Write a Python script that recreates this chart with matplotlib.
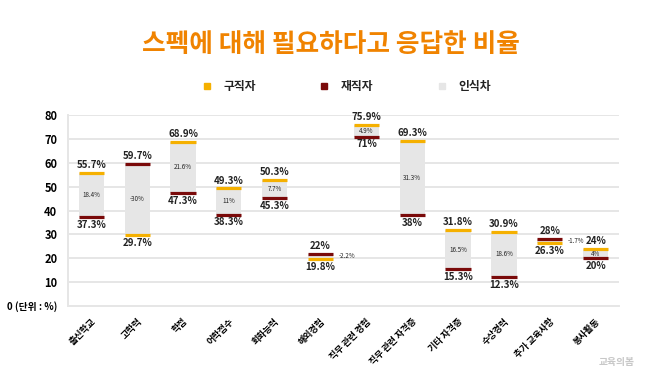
import matplotlib.pyplot as plt
import numpy as np

plt.rcParams['font.family'] = ['Noto Sans CJK KR', 'DejaVu Sans']

# data
categories = ['출신학교', '고학력', '학점', '어학점수', '회화능력', '해외경험',
              '직무 관련 경험', '직무 관련 자격증', '기타 자격증', '수상경력',
              '추가 교육사항', '봉사활동']
# bar positions as drawn in the source (회화능력 orange bar sits near 53)
seekers = [55.7, 29.7, 68.9, 49.3, 53.0, 19.8, 75.9, 69.3, 31.8, 30.9, 26.3, 24]
workers = [37.3, 59.7, 47.3, 38.3, 45.3, 22, 71, 38, 15.3, 12.3, 28, 20]
# printed labels
seeker_labels = ['55.7%', '29.7%', '68.9%', '49.3%', '50.3%', '19.8%', '75.9%',
                 '69.3%', '31.8%', '30.9%', '26.3%', '24%']
worker_labels = ['37.3%', '59.7%', '47.3%', '38.3%', '45.3%', '22%', '71%',
                 '38%', '15.3%', '12.3%', '28%', '20%']
gap_labels = ['18.4%', '-30%', '21.6%', '11%', '7.7%', '-2.2%', '4.9%',
              '31.3%', '16.5%', '18.6%', '-1.7%', '4%']
yticks = [0, 10, 20, 30, 40, 50, 60, 70, 80]

ORANGE = '#F5B000'
DARKRED = '#7A0A0A'
GRAY = '#E6E6E6'
TITLE = '#F08300'

fig = plt.figure(figsize=(6.58, 3.75), dpi=100)
ax = fig.add_axes([0.104, 0.184, 0.836, 0.509])

x = np.arange(len(categories))
w = 0.55
lo = np.minimum(seekers, workers)
hi = np.maximum(seekers, workers)

ax.bar(x, hi - lo, bottom=lo, width=w, color=GRAY, zorder=2)
ax.hlines(seekers, x - w / 2, x + w / 2, color=ORANGE, lw=2.3, zorder=3)
ax.hlines(workers, x - w / 2, x + w / 2, color=DARKRED, lw=2.3, zorder=3)

for i in range(len(categories)):
    if seekers[i] >= workers[i]:
        top_lab, bot_lab = seeker_labels[i], worker_labels[i]
    else:
        top_lab, bot_lab = worker_labels[i], seeker_labels[i]
    ax.text(x[i], hi[i] + 1.2, top_lab, ha='center', va='bottom',
            fontsize=7, fontweight='bold', color='#222222')
    ax.text(x[i], lo[i] - 1.2, bot_lab, ha='center', va='top',
            fontsize=7, fontweight='bold', color='#222222')
    if hi[i] - lo[i] < 3:
        ax.text(x[i] + w / 2 + 0.12, (hi[i] + lo[i]) / 2, gap_labels[i],
                ha='left', va='center', fontsize=4.5, color='#222222')
    else:
        ax.text(x[i], (hi[i] + lo[i]) / 2, gap_labels[i], ha='center',
                va='center', fontsize=4.5, color='#222222')

ax.set_xlim(-0.5, len(categories) - 0.5)
ax.set_ylim(0, 80)
ax.set_yticks(yticks)
ax.set_yticklabels(['0 (단위 : %)'] + [str(v) for v in yticks[1:]],
                   fontsize=8, fontweight='bold')
ax.get_yticklabels()[0].set_fontsize(7)
ax.set_xticks(x)
ax.set_xticklabels(categories, rotation=45, ha='right', rotation_mode='anchor',
                   fontsize=6.5, fontweight='bold')
ax.tick_params(length=0, pad=8)
ax.tick_params(axis='y', pad=8)
ax.grid(axis='y', color='#E6E6E6', lw=1.4, zorder=0)
for s in ['top', 'right']:
    ax.spines[s].set_visible(False)
for s in ['left', 'bottom']:
    ax.spines[s].set_color('#E6E6E6')
    ax.spines[s].set_linewidth(1.4)

fig.text(0.503, 0.88, '스펙에 대해 필요하다고 응답한 비율', ha='center', va='center',
         fontsize=18.5, fontweight='heavy', color=TITLE)

# legend
for xpos, col, lab in [(0.315, ORANGE, '구직자'), (0.493, DARKRED, '재직자'),
                       (0.672, GRAY, '인식차')]:
    fig.patches.append(plt.Rectangle((xpos - 0.005, 0.762), 0.009, 0.016,
                                     transform=fig.transFigure, color=col))
    fig.text(xpos + 0.025, 0.77, lab, ha='left', va='center', fontsize=8.5,
             fontweight='bold', color='#222222')

fig.text(0.965, 0.035, '교육의봄', ha='right', va='center', fontsize=7,
         fontweight='bold', color='#C8C8C8')

fig.savefig('out.png', dpi=100)
